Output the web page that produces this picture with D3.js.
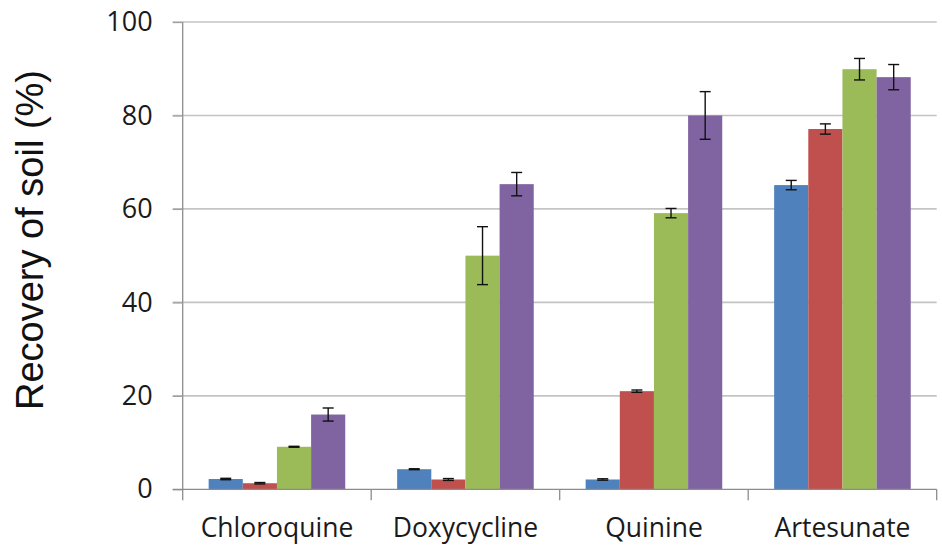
<!DOCTYPE html>
<html>
<head>
<meta charset="utf-8">
<script src="https://cdn.jsdelivr.net/npm/d3@7"></script>
<style>
  html, body { margin: 0; padding: 0; background: #fff; }
  svg { display: block; }
</style>
</head>
<body>
<svg id="chart" width="942" height="549"></svg>
<script>
const categories = ["Chloroquine", "Doxycycline", "Quinine", "Artesunate"];
const seriesNames = ["S1", "S2", "S3", "S4"];
const seriesColors = ["#4F81BD", "#C0504D", "#9BBB59", "#8064A2"];
const series1 = [2.2, 4.3, 2.1, 65.1];
const series2 = [1.3, 2.1, 21.0, 77.1];
const series3 = [9.1, 50.0, 59.1, 89.9];
const series4 = [16.0, 65.3, 80.0, 88.2];
const err1 = [0.15, 0.1, 0.15, 1.0];
const err2 = [0.15, 0.2, 0.25, 1.1];
const err3 = [0.1, 6.2, 1.0, 2.3];
const err4 = [1.4, 2.5, 5.1, 2.7];
const yTicks = [0, 20, 40, 60, 80, 100];
const yTitle = "Recovery of soil (%)";

const values = [series1, series2, series3, series4];
const errors = [err1, err2, err3, err4];

const svg = d3.select("#chart");
const mLeft = 182.7, mRight = 936.7, mTop = 22, mBottom = 489.3;

const x0 = d3.scaleBand().domain(categories).range([mLeft, mRight]).paddingInner(0).paddingOuter(0);
const x1 = d3.scaleBand().domain(seriesNames).range([0, x0.bandwidth()]).paddingInner(0).paddingOuter(0.76);
const y = d3.scaleLinear().domain([0, 100]).range([mBottom, mTop]);

// gridlines
svg.append("g").selectAll("line").data(yTicks.filter(d => d > 0)).join("line")
  .attr("x1", mLeft - 10).attr("x2", mRight)
  .attr("y1", d => y(d)).attr("y2", d => y(d))
  .attr("stroke", "#c4c4c4").attr("stroke-width", 1.6);

// bars
const data = [];
categories.forEach((c, i) => {
  seriesNames.forEach((s, j) => {
    data.push({ c, s, j, v: values[j][i], e: errors[j][i] });
  });
});

const g = svg.append("g");
g.selectAll("rect").data(data).join("rect")
  .attr("x", d => x0(d.c) + x1(d.s))
  .attr("width", x1.bandwidth())
  .attr("y", d => y(d.v))
  .attr("height", d => y(0) - y(d.v))
  .attr("fill", d => seriesColors[d.j]);

// error bars
const eb = svg.append("g").attr("stroke", "#111").attr("stroke-width", 1.4);
data.forEach(d => {
  const cx = x0(d.c) + x1(d.s) + x1.bandwidth() / 2;
  const y1 = y(d.v + d.e), y2 = y(d.v - d.e);
  eb.append("line").attr("x1", cx).attr("x2", cx).attr("y1", y1).attr("y2", y2);
  eb.append("line").attr("x1", cx - 5.5).attr("x2", cx + 5.5).attr("y1", y1).attr("y2", y1);
  eb.append("line").attr("x1", cx - 5.5).attr("x2", cx + 5.5).attr("y1", y2).attr("y2", y2);
});

// y axis
const yAxis = svg.append("g").attr("transform", `translate(${mLeft},0)`)
  .call(d3.axisLeft(y).tickValues(yTicks).tickSize(10).tickPadding(20));
yAxis.select(".domain").attr("stroke", "#8c8c8c").attr("stroke-width", 1.3)
  .attr("d", `M0,${mTop}V${mBottom}`);
yAxis.selectAll(".tick line").attr("stroke", "#a0a0a0").attr("stroke-width", 1.3);
yAxis.selectAll(".tick text")
  .attr("font-family", "'Open Sans', sans-serif")
  .attr("font-size", 27).attr("fill", "#1a1a1a");

// x axis
const xAxis = svg.append("g").attr("transform", `translate(0,${mBottom})`)
  .call(d3.axisBottom(x0).tickSize(0).tickPadding(29));
xAxis.select(".domain").attr("stroke", "#8c8c8c").attr("stroke-width", 1.3)
  .attr("d", `M${mLeft - 10},0H${mRight}`);
xAxis.selectAll(".tick text")
  .attr("font-family", "'Open Sans', sans-serif")
  .attr("font-size", 26.5).attr("fill", "#1a1a1a");

// category boundary ticks
const bounds = categories.map(c => x0(c)).concat([mRight]);
svg.append("g").selectAll("line").data(bounds).join("line")
  .attr("x1", d => d).attr("x2", d => d)
  .attr("y1", mBottom).attr("y2", mBottom + 11)
  .attr("stroke", "#8c8c8c").attr("stroke-width", 1.3);

// y title
svg.append("text")
  .attr("transform", `translate(43,240) rotate(-90)`)
  .attr("text-anchor", "middle")
  .attr("font-family", "'Liberation Sans', Arial, sans-serif")
  .attr("font-size", 38).attr("fill", "#111")
  .text(yTitle);
</script>
</body>
</html>
